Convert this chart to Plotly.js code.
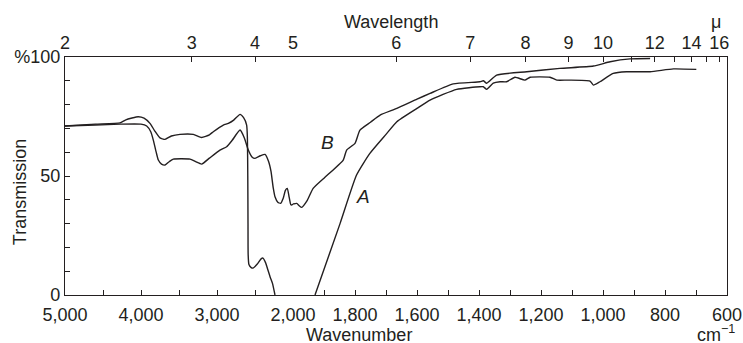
<!DOCTYPE html>
<html>
<head>
<meta charset="utf-8">
<script src="https://cdn.plot.ly/plotly-3.0.1.min.js"></script>
<style>html,body{margin:0;padding:0;background:#fff;}#chart{width:743px;height:343px;}</style>
</head>
<body>
<div id="chart"></div>
<script>
// Curve A (left segment 5000-2000 cm-1, right segment 2000-600 cm-1)
const aLeftWn = [5000,4600,4276,4200,4036,3960,3882,3820,3750,3684,3600,3487,3312,3202,3100,3049,2917,2851,2780,2697,2650,2610,2600,2595,2592,2590,2580,2550,2526,2470,2420,2395,2360,2330,2300,2270,2237];
const aLeftT  = [71.0,71.8,72.3,73.6,74.9,74.3,72.1,69.0,66.0,65.4,66.8,67.5,67.5,66.2,67.3,68.6,71.4,72.1,73.5,75.9,74.5,71.4,66,50,30,17,12.8,11.5,11.3,13.0,15.2,15.5,13.5,10.5,7.5,4.9,0];
const aRightWn = [1929,1848,1795,1752,1700,1665,1600,1558,1472,1397,1386,1375,1354,1332,1311,1284,1252,1235,1171,1149,1112,1042,1031,1010,967,924,848,773,699];
const aRightT  = [0,30.1,50.4,59.5,67.5,72.8,78.4,81.9,86.4,87.5,87.5,86.4,89.0,89.6,89.6,91.5,90.3,91.5,91.5,90.3,90.3,89.9,88.2,89.6,93.1,93.8,93.8,95.0,94.8];

// Curve B
const bLeftWn = [5000,4600,4276,4000,3925,3870,3838,3800,3772,3730,3684,3630,3575,3355,3280,3202,3100,2961,2873,2800,2697,2640,2588,2540,2500,2430,2368,2320,2290,2260,2237,2200,2162,2130,2100,2075,2050,2030,2018,2000];
const bLeftT  = [71.0,71.4,71.8,71.8,71.0,68.5,65.1,60.0,56.7,55.0,54.6,56.0,57.1,57.1,56.0,55.0,57.5,60.9,62.3,65.0,69.3,66.0,60.9,58.0,57.4,58.5,59.1,56.0,52.0,45.0,41.3,39.0,38.5,40.5,44.0,44.8,41.0,38.0,37.8,38.2];
const bRightWn = [2000,1988,1980,1972,1955,1935,1900,1838,1827,1800,1784,1750,1719,1665,1600,1558,1483,1397,1386,1375,1343,1246,1139,1031,977,913,848];
const bRightT  = [38.2,38.5,37.5,36.8,39.5,44.8,49.1,56.7,60.9,63.7,69.3,72.6,75.6,78.4,82.3,84.7,88.7,89.6,90.0,89.0,92.4,93.8,95.2,96.2,98.0,99.2,99.4];

// Tick labels
const wnLeftTicks = [5000,4500,4000,3500,3000,2500,2000];
const wnLeftLabels = ["5,000","","4,000","","3,000","","2,000"];
const wnRightTicks = [1900,1800,1700,1600,1500,1400,1300,1200,1100,1000,900,800,700,600];
const wnRightLabels = ["","1,800","","1,600","","1,400","","1,200","","1,000","","800","","600"];
const micronLeft = [2,3,4,5];
const micronLeftLabels = ["2","3","4","5"];
const micronRight = [6,7,8,9,10,11,12,13,14,15,16];
const micronRightLabels = ["6","7","8","9","10","","12","","14","","16"];
const tTicks = [0,10,20,30,40,50,60,70,80,90,100];
const tLabels = ["0","","","","","50","","","","","%100"];

const ink = '#231f20';
const font = {family: 'Liberation Sans, Arial, Helvetica, sans-serif', size: 18, color: ink};
const lineStyle = {color: ink, width: 1.4, shape: 'spline', smoothing: 0.5};

const traces = [
  {x: aLeftWn, y: aLeftT, xaxis: 'x', yaxis: 'y', mode: 'lines', line: lineStyle, name: 'A'},
  {x: aRightWn, y: aRightT, xaxis: 'x2', yaxis: 'y', mode: 'lines', line: lineStyle, name: 'A'},
  {x: bLeftWn, y: bLeftT, xaxis: 'x', yaxis: 'y', mode: 'lines', line: lineStyle, name: 'B'},
  {x: bRightWn, y: bRightT, xaxis: 'x2', yaxis: 'y', mode: 'lines', line: lineStyle, name: 'B'},
  // empty carriers so the top wavelength axes and right frame axis are drawn
  {x: [], y: [], xaxis: 'x3', yaxis: 'y', mode: 'lines', hoverinfo: 'skip'},
  {x: [], y: [], xaxis: 'x4', yaxis: 'y', mode: 'lines', hoverinfo: 'skip'},
  {x: [], y: [], xaxis: 'x2', yaxis: 'y2', mode: 'lines', hoverinfo: 'skip'}
];

const split = 228/662;
const axBase = {
  showgrid: false, zeroline: false, showline: true, linecolor: ink, linewidth: 1.2,
  ticks: 'inside', ticklen: 5, tickwidth: 1, tickcolor: ink, tickfont: font,
  tickmode: 'array', fixedrange: true
};

const layout = {
  width: 743, height: 343,
  margin: {l: 65, r: 16, t: 57, b: 48, pad: 0},
  paper_bgcolor: '#fff', plot_bgcolor: '#fff',
  showlegend: false,
  font: font,
  xaxis: Object.assign({}, axBase, {domain: [0, split], range: [5000, 2000], anchor: 'y',
    tickvals: wnLeftTicks, ticktext: wnLeftLabels, ticklabelstandoff: 3}),
  xaxis2: Object.assign({}, axBase, {domain: [split, 1], range: [2000, 600], anchor: 'y',
    tickvals: wnRightTicks, ticktext: wnRightLabels, ticklabelstandoff: 3}),
  xaxis3: Object.assign({}, axBase, {overlaying: 'x', side: 'top', anchor: 'y', range: [5000, 2000],
    tickvals: micronLeft.map(m => 10000/m), ticktext: micronLeftLabels}),
  xaxis4: Object.assign({}, axBase, {overlaying: 'x2', side: 'top', anchor: 'y', range: [2000, 600],
    tickvals: micronRight.map(m => 10000/m), ticktext: micronRightLabels}),
  yaxis: Object.assign({}, axBase, {range: [0, 100], anchor: 'x', side: 'left',
    tickvals: tTicks, ticktext: tLabels}),
  yaxis2: Object.assign({}, axBase, {range: [0, 100], anchor: 'x2', side: 'right', overlaying: 'y',
    ticks: '', showticklabels: false, tickvals: []}),
  annotations: [
    {text: 'Wavelength', xref: 'paper', yref: 'paper', x: 0.4924, y: 1.149, showarrow: false, font: font, xanchor: 'center', yanchor: 'middle'},
    {text: 'Wavenumber', xref: 'paper', yref: 'paper', x: 0.444, y: -0.166, showarrow: false, font: font, xanchor: 'center', yanchor: 'middle'},
    {text: 'cm<sup>−1</sup>', xref: 'paper', yref: 'paper', x: 0.983, y: -0.162, showarrow: false, font: font, xanchor: 'center', yanchor: 'middle'},
    {text: 'μ', xref: 'paper', yref: 'paper', x: 0.983, y: 1.148, showarrow: false, font: font, xanchor: 'center', yanchor: 'middle'},
    {text: 'Transmission', xref: 'paper', yref: 'paper', x: -0.068, y: 0.432, textangle: -90, showarrow: false, font: font, xanchor: 'center', yanchor: 'middle'},
    {text: '<i>B</i>', xref: 'x2', yref: 'y', x: 1889, y: 64.1, showarrow: false, font: Object.assign({}, font, {size: 19}), xanchor: 'center', yanchor: 'middle'},
    {text: '<i>A</i>', xref: 'x2', yref: 'y', x: 1774, y: 41.2, showarrow: false, font: Object.assign({}, font, {size: 19}), xanchor: 'center', yanchor: 'middle'}
  ]
};

Plotly.newPlot('chart', traces, layout, {staticPlot: true, displayModeBar: false});
</script>
</body>
</html>
